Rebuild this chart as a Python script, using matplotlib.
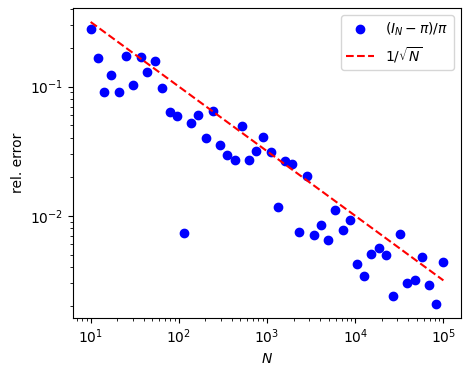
import numpy as np
from matplotlib import pyplot as plt

# sample sizes (50 log-spaced values from 10 to 1e5)
N = [10, 12, 14, 17, 21, 25, 30, 37, 44, 54,
     65, 79, 95, 115, 138, 167, 202, 244, 294, 355,
     429, 517, 625, 754, 910, 1098, 1325, 1599, 1930, 2329,
     2811, 3393, 4094, 4941, 5963, 7196, 8685, 10481, 12648, 15264,
     18420, 22229, 26826, 32374, 39069, 47148, 56898, 68664, 82864, 100000]

# relative error of the estimate
rel_err = [0.279, 0.1676, 0.0909, 0.1234, 0.0909, 0.1737, 0.1031, 0.1706, 0.1287, 0.1568,
           0.0982, 0.0634, 0.0590, 0.00732, 0.0521, 0.0601, 0.0397, 0.0650, 0.0352, 0.0294,
           0.0268, 0.0493, 0.0268, 0.0316, 0.0407, 0.0311, 0.0117, 0.0264, 0.0252, 0.00746,
           0.0204, 0.00707, 0.00846, 0.00646, 0.01108, 0.00773, 0.00926, 0.00420, 0.00344, 0.00502,
           0.00559, 0.00493, 0.00241, 0.00719, 0.00303, 0.00316, 0.00484, 0.00289, 0.00208, 0.00437]

N = np.array(N)

fig = plt.figure(figsize=(4.69, 3.75), dpi=100)
ax = fig.add_axes([0.1557, 0.152, 0.983 - 0.1557, 0.979 - 0.152])

ax.loglog(N, rel_err, 'bo', label=r'$(I_N-\pi)/\pi$')
ax.loglog(N, 1 / np.sqrt(N), 'r--', label=r'$1/\sqrt{N}$')

ax.set_xlabel(r'$N$')
ax.set_ylabel('rel. error')
ax.legend(loc='upper right')

fig.savefig('out.png', dpi=100)
